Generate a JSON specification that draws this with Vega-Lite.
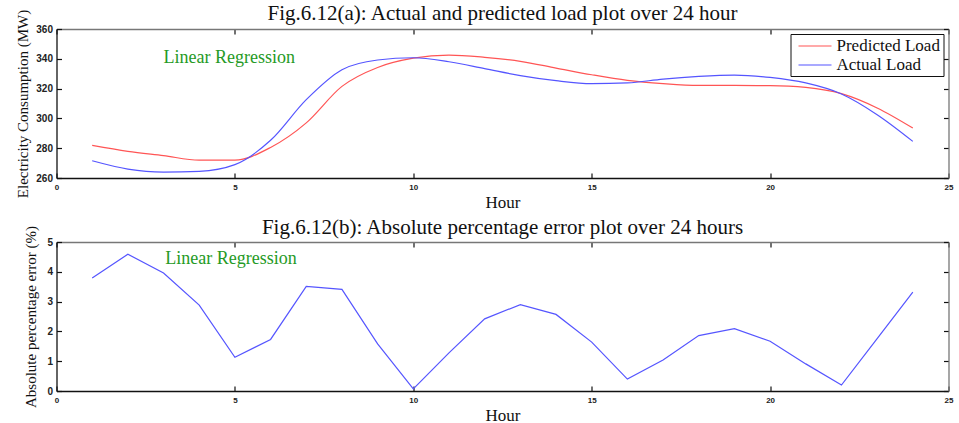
{
  "$schema": "https://vega.github.io/schema/vega-lite/v6.json",
  "background": "white",
  "padding": {"left": 15.5, "top": 3, "right": 0, "bottom": 0},
  "datasets": {
    "load": [
      {"hour": 1, "series": "Predicted Load", "load": 281.9},
      {"hour": 2, "series": "Predicted Load", "load": 277.9},
      {"hour": 3, "series": "Predicted Load", "load": 275.0},
      {"hour": 4, "series": "Predicted Load", "load": 272.0},
      {"hour": 5, "series": "Predicted Load", "load": 272.0},
      {"hour": 6, "series": "Predicted Load", "load": 280.5},
      {"hour": 7, "series": "Predicted Load", "load": 297.0},
      {"hour": 8, "series": "Predicted Load", "load": 321.5},
      {"hour": 9, "series": "Predicted Load", "load": 334.2},
      {"hour": 10, "series": "Predicted Load", "load": 340.4},
      {"hour": 11, "series": "Predicted Load", "load": 342.5},
      {"hour": 12, "series": "Predicted Load", "load": 341.0},
      {"hour": 13, "series": "Predicted Load", "load": 338.3},
      {"hour": 14, "series": "Predicted Load", "load": 333.8},
      {"hour": 15, "series": "Predicted Load", "load": 329.3},
      {"hour": 16, "series": "Predicted Load", "load": 325.5},
      {"hour": 17, "series": "Predicted Load", "load": 323.3},
      {"hour": 18, "series": "Predicted Load", "load": 322.1},
      {"hour": 19, "series": "Predicted Load", "load": 322.1},
      {"hour": 20, "series": "Predicted Load", "load": 322.0},
      {"hour": 21, "series": "Predicted Load", "load": 320.8},
      {"hour": 22, "series": "Predicted Load", "load": 316.6},
      {"hour": 23, "series": "Predicted Load", "load": 307.0},
      {"hour": 24, "series": "Predicted Load", "load": 293.5},
      {"hour": 1, "series": "Actual Load", "load": 271.6},
      {"hour": 2, "series": "Actual Load", "load": 266.0},
      {"hour": 3, "series": "Actual Load", "load": 264.0},
      {"hour": 4, "series": "Actual Load", "load": 264.5},
      {"hour": 5, "series": "Actual Load", "load": 269.0},
      {"hour": 6, "series": "Actual Load", "load": 285.3},
      {"hour": 7, "series": "Actual Load", "load": 312.6},
      {"hour": 8, "series": "Actual Load", "load": 332.7},
      {"hour": 9, "series": "Actual Load", "load": 339.2},
      {"hour": 10, "series": "Actual Load", "load": 340.7},
      {"hour": 11, "series": "Actual Load", "load": 338.0},
      {"hour": 12, "series": "Actual Load", "load": 333.4},
      {"hour": 13, "series": "Actual Load", "load": 328.7},
      {"hour": 14, "series": "Actual Load", "load": 325.3},
      {"hour": 15, "series": "Actual Load", "load": 323.3},
      {"hour": 16, "series": "Actual Load", "load": 323.8},
      {"hour": 17, "series": "Actual Load", "load": 326.4},
      {"hour": 18, "series": "Actual Load", "load": 328.2},
      {"hour": 19, "series": "Actual Load", "load": 329.1},
      {"hour": 20, "series": "Actual Load", "load": 327.5},
      {"hour": 21, "series": "Actual Load", "load": 323.8},
      {"hour": 22, "series": "Actual Load", "load": 316.4},
      {"hour": 23, "series": "Actual Load", "load": 302.5},
      {"hour": 24, "series": "Actual Load", "load": 284.6}
    ],
    "ape": [
      {"hour": 1, "error": 3.79},
      {"hour": 2, "error": 4.59},
      {"hour": 3, "error": 3.96},
      {"hour": 4, "error": 2.88},
      {"hour": 5, "error": 1.13},
      {"hour": 6, "error": 1.73},
      {"hour": 7, "error": 3.51},
      {"hour": 8, "error": 3.41},
      {"hour": 9, "error": 1.58},
      {"hour": 10, "error": 0.07},
      {"hour": 11, "error": 1.28},
      {"hour": 12, "error": 2.42},
      {"hour": 13, "error": 2.9},
      {"hour": 14, "error": 2.57},
      {"hour": 15, "error": 1.64},
      {"hour": 16, "error": 0.4},
      {"hour": 17, "error": 1.04},
      {"hour": 18, "error": 1.86},
      {"hour": 19, "error": 2.09},
      {"hour": 20, "error": 1.67},
      {"hour": 21, "error": 0.91},
      {"hour": 22, "error": 0.2},
      {"hour": 23, "error": 1.76},
      {"hour": 24, "error": 3.32}
    ]
  },
  "config": {
    "view": {"stroke": null},
    "title": {
      "font": "Liberation Serif",
      "fontSize": 21,
      "fontWeight": "normal",
      "color": "#111",
      "anchor": "middle",
      "baseline": "alphabetic"
    },
    "axis": {
      "grid": false,
      "tickSize": -5,
      "tickColor": "#111",
      "domainColor": "#111",
      "domainWidth": 1.3,
      "tickWidth": 1.2,
      "labelFont": "Liberation Sans",
      "labelFontWeight": "bold",
      "labelColor": "#222",
      "labelFlush": false,
      "titleFont": "Liberation Serif",
      "titleFontWeight": "normal",
      "titleColor": "#111"
    },
    "legend": {
      "orient": "top-right",
      "offset": 5,
      "strokeColor": "#111",
      "fillColor": "white",
      "padding": 3,
      "labelFont": "Liberation Serif",
      "labelFontSize": 17,
      "labelColor": "#111",
      "symbolType": "M-0.5,0H3.625",
      "symbolSize": 256,
      "symbolStrokeWidth": 1.2,
      "labelOffset": 25,
      "rowPadding": 2
    }
  },
  "spacing": 64,
  "bounds": "flush",
  "vconcat": [
    {
      "width": 892,
      "height": 149,
      "title": {"text": "Fig.6.12(a): Actual and predicted load plot over 24 hour", "offset": -15},
      "data": {"name": "load"},
      "layer": [
        {
          "mark": {"type": "line", "interpolate": "monotone", "strokeWidth": 1.2},
          "encoding": {
            "x": {
              "field": "hour",
              "type": "quantitative",
              "scale": {"domain": [0, 25], "nice": false},
              "axis": {
                "orient": "bottom",
                "values": [0, 5, 10, 15, 20, 25],
                "labelFontSize": 8,
                "labelPadding": 10,
                "title": "Hour",
                "titleFontSize": 17,
                "titlePadding": 3
              }
            },
            "y": {
              "field": "load",
              "type": "quantitative",
              "scale": {"domain": [260, 360], "nice": false, "zero": false},
              "axis": {
                "orient": "left",
                "values": [260, 280, 300, 320, 340, 360],
                "labelFontSize": 10,
                "labelPadding": 9,
                "title": "Electricity Consumption (MW)",
                "titleFontSize": 15,
                "titlePadding": 5
              }
            },
            "color": {
              "field": "series",
              "type": "nominal",
              "sort": ["Predicted Load", "Actual Load"],
              "scale": {"domain": ["Predicted Load", "Actual Load"], "range": ["#ff5555", "#5555ff"]},
              "legend": {"title": null}
            }
          }
        },
        {
          "mark": {"type": "line", "opacity": 0},
          "encoding": {
            "x": {
              "field": "hour",
              "type": "quantitative",
              "scale": {"domain": [0, 25], "nice": false},
              "axis": {"orient": "top", "values": [0, 5, 10, 15, 20, 25], "labels": false, "title": null, "domainColor": "#777"}
            },
            "y": {
              "field": "load",
              "type": "quantitative",
              "scale": {"domain": [260, 360], "nice": false, "zero": false},
              "axis": {"orient": "right", "values": [260, 280, 300, 320, 340, 360], "labels": false, "title": null, "domainColor": "#777"}
            },
            "detail": {"field": "series"}
          }
        },
        {
          "data": {"values": [{"label": "Linear Regression"}]},
          "mark": {"type": "text", "font": "Liberation Serif", "fontSize": 18, "color": "#259a25", "align": "left", "baseline": "middle"},
          "encoding": {
            "x": {"datum": 3, "type": "quantitative", "axis": null},
            "y": {"datum": 340.5, "type": "quantitative", "axis": null},
            "text": {"field": "label"}
          }
        }
      ],
      "resolve": {"axis": {"x": "independent", "y": "independent"}}
    },
    {
      "width": 892,
      "height": 149,
      "title": {"text": "Fig.6.12(b): Absolute percentage error plot over 24 hours", "offset": -12},
      "data": {"name": "ape"},
      "layer": [
        {
          "mark": {"type": "line", "strokeWidth": 1.2, "color": "#5555ff"},
          "encoding": {
            "x": {
              "field": "hour",
              "type": "quantitative",
              "scale": {"domain": [0, 25], "nice": false},
              "axis": {
                "orient": "bottom",
                "values": [0, 5, 10, 15, 20, 25],
                "labelFontSize": 8,
                "labelPadding": 10,
                "title": "Hour",
                "titleFontSize": 17,
                "titlePadding": 3
              }
            },
            "y": {
              "field": "error",
              "type": "quantitative",
              "scale": {"domain": [0, 5], "nice": false},
              "axis": {
                "orient": "left",
                "values": [0, 1, 2, 3, 4, 5],
                "labelFontSize": 10,
                "labelPadding": 9,
                "title": "Absolute percentage error (%)",
                "titleFont": "Liberation Sans Narrow",
                "titleFontSize": 15,
                "titlePadding": 8
              }
            }
          }
        },
        {
          "mark": {"type": "line", "opacity": 0},
          "encoding": {
            "x": {
              "field": "hour",
              "type": "quantitative",
              "scale": {"domain": [0, 25], "nice": false},
              "axis": {"orient": "top", "values": [0, 5, 10, 15, 20, 25], "labels": false, "title": null, "domainColor": "#777"}
            },
            "y": {
              "field": "error",
              "type": "quantitative",
              "scale": {"domain": [0, 5], "nice": false},
              "axis": {"orient": "right", "values": [0, 1, 2, 3, 4, 5], "labels": false, "title": null, "domainColor": "#777"}
            }
          }
        },
        {
          "data": {"values": [{"label": "Linear Regression"}]},
          "mark": {"type": "text", "font": "Liberation Serif", "fontSize": 18, "color": "#259a25", "align": "left", "baseline": "middle"},
          "encoding": {
            "x": {"datum": 3.05, "type": "quantitative", "axis": null},
            "y": {"datum": 4.43, "type": "quantitative", "axis": null},
            "text": {"field": "label"}
          }
        }
      ],
      "resolve": {"axis": {"x": "independent", "y": "independent"}}
    }
  ]
}
